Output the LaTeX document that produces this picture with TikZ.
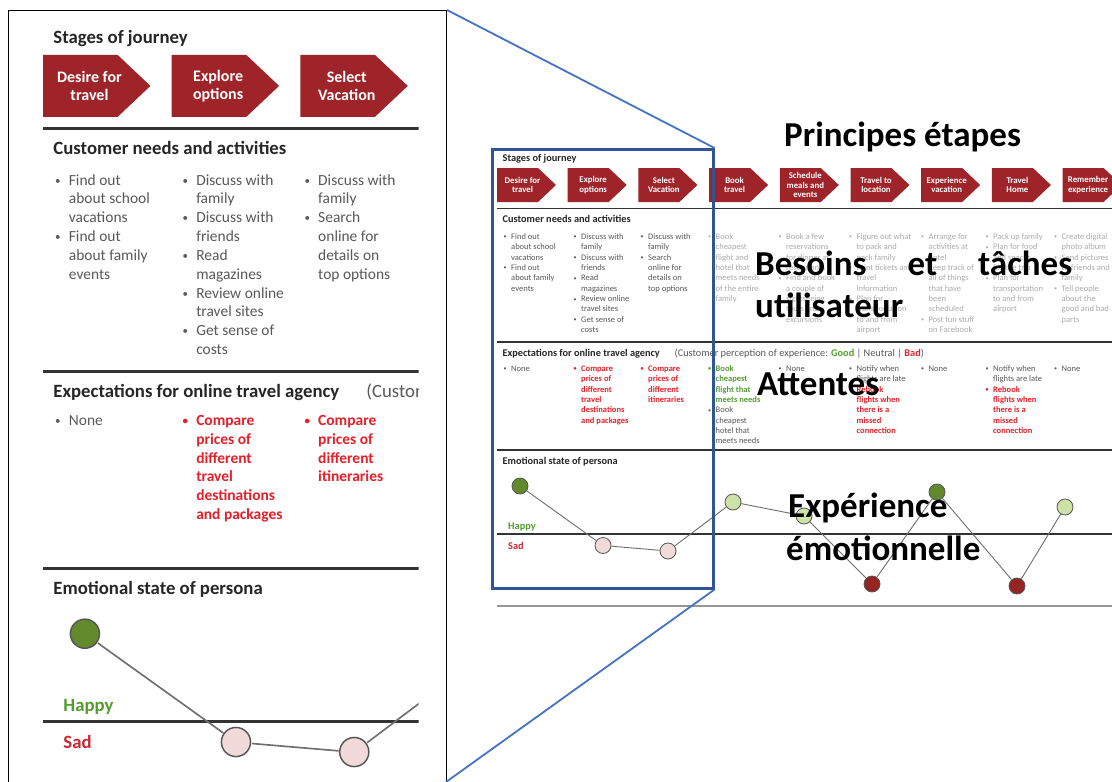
\documentclass[tikz,border=0pt]{standalone}
\usepackage{fontspec}
\setmainfont{Carlito}
\usepackage{xcolor}
\usepackage{tikz}
\usetikzlibrary{positioning}

\definecolor{stagered}{RGB}{158,36,42}
\definecolor{inkblack}{RGB}{38,38,38}
\definecolor{bodygray}{RGB}{89,89,89}
\definecolor{fadegray}{RGB}{172,172,172}
\definecolor{hotred}{RGB}{228,32,42}
\definecolor{goodgreen}{RGB}{84,156,48}
\definecolor{sadred}{RGB}{200,40,50}
\definecolor{rulegray}{RGB}{51,51,51}
\definecolor{softgray}{RGB}{150,150,150}
\definecolor{moodgray}{RGB}{110,110,110}
\definecolor{moodedge}{RGB}{85,85,85}
\definecolor{deepgreen}{RGB}{98,138,44}
\definecolor{palegreen}{RGB}{204,226,166}
\definecolor{palepink}{RGB}{242,218,218}
\definecolor{deepred}{RGB}{150,36,36}
\definecolor{lensblue}{RGB}{47,85,151}
\definecolor{linkblue}{RGB}{68,114,196}

\newcommand{\zf}{1}
\newcommand{\bitem}{\makebox[7.5pt][l]{\raisebox{0.6pt}{\fontsize{6}{6}\selectfont\textbullet}}}
\newcommand{\bcont}{\hspace*{7.5pt}}
\newcommand{\itemstack}[1]{\begin{tabular}[t]{@{}l@{}}#1\end{tabular}}
\newcommand{\keytext}{(Customer perception of experience: {\bfseries\color{goodgreen}Good} | Neutral | {\bfseries\color{hotred}Bad})}

% first three columns of the slide, rules and emotion curve (slide pixels)
\newcommand{\slidecore}{%
  % Stages
  \node[heading] (stagestitle) at (502.5,161.5) {Stages of journey};
  \foreach \lbl [count=\i] in {{Desire for\\travel},{Explore\\options},{Select\\Vacation}}{
    \pgfmathsetmacro\sx{497+70.7*(\i-1)}
    \fill[stagered] (\sx,168) -- ++(41,0) -- ++(18,17) -- ++(-18,17) -- ++(-41,0) -- cycle;
    \node[stagelabel] (stage\i) at (\sx+25.5,185) {\lbl};
  }
  \draw[sectionrule] (497,208.5) -- (1115,208.5);
  % Needs
  \node[heading] (needstitle) at (502.5,222.5) {Customer needs and activities};
  \node[cell] (need1) at (503.5,239.5) {\itemstack{\bitem Find out\\\bcont about school\\\bcont vacations\\\bitem Find out\\\bcont about family\\\bcont events}};
  \node[cell] (need2) at (573.5,239.5) {\itemstack{\bitem Discuss with\\\bcont family\\\bitem Discuss with\\\bcont friends\\\bitem Read\\\bcont magazines\\\bitem Review online\\\bcont travel sites\\\bitem Get sense of\\\bcont costs}};
  \node[cell] (need3) at (640.5,239.5) {\itemstack{\bitem Discuss with\\\bcont family\\\bitem Search\\\bcont online for\\\bcont details on\\\bcont top options}};
  \draw[sectionrule] (497,342) -- (1115,342);
  % Expectations
  \node[heading] (expecttitle) at (502.5,356) {Expectations for online travel agency};
  \node[heading, font=\fontsize{10.3}{12}\selectfont, text=bodygray] (expectkey) at (674.5,356) {\keytext};
  \node[cell] (expect1) at (503.5,371.5) {\itemstack{\bitem None}};
  \node[alert] (expect2) at (573.5,371.5) {\itemstack{\bitem Compare\\\bcont prices of\\\bcont different\\\bcont travel\\\bcont destinations\\\bcont and packages}};
  \node[alert] (expect3) at (640.5,371.5) {\itemstack{\bitem Compare\\\bcont prices of\\\bcont different\\\bcont itineraries}};
  \draw[sectionrule] (497,450) -- (1115,450);
  % Emotions
  \node[heading] (moodtitle) at (502.5,464.5) {Emotional state of persona};
  \node[moodlabel, text=goodgreen] (happy) at (508,529) {Happy};
  \node[moodlabel, text=sadred] (sad) at (508,549) {Sad};
  \draw[sectionrule] (497,534) -- (1115,534);
  \foreach \mx/\my/\tone [count=\i] in {520/486/deepgreen, 603/545.5/palepink, 668/551/palepink, 733/502/palegreen, 804/516/palegreen, 872/584/deepred, 937/492/deepgreen, 1017/586/deepred, 1065/507/palegreen}
    \node[mood, fill=\tone] (mood\i) at (\mx,\my) {};
  \draw[moodlink] (mood1) -- (mood2) -- (mood3) -- (mood4) -- (mood5) -- (mood6) -- (mood7) -- (mood8) -- (mood9);
  \draw[softrule] (497,606) -- (1115,606);
}

% columns four to nine
\newcommand{\slidetail}{%
  \foreach \lbl [count=\i from 4] in {{Book\\travel},{Schedule\\meals and\\events},{Travel to\\location},{Experience\\vacation},{Travel\\Home},{Remember\\experience}}{
    \pgfmathsetmacro\sx{497+70.7*(\i-1)}
    \fill[stagered] (\sx,168) -- ++(41,0) -- ++(18,17) -- ++(-18,17) -- ++(-41,0) -- cycle;
    \node[stagelabel] (stage\i) at (\sx+25.5,185) {\lbl};
  }
  \node[faded] (need4) at (708,239.5) {\itemstack{\bitem Book\\\bcont cheapest\\\bcont flight and\\\bcont hotel that\\\bcont meets needs\\\bcont of the entire\\\bcont family}};
  \node[faded] (need5) at (778.5,239.5) {\itemstack{\bitem Book a few\\\bcont reservations\\\bcont for dinner at\\\bcont restaurants\\\bitem Find and book\\\bcont a couple of\\\bcont sightseeing\\\bcont tours and\\\bcont excursions}};
  \node[faded] (need6) at (849,239.5) {\itemstack{\bitem Figure out what\\\bcont to pack and\\\bcont pack family\\\bitem Print tickets and\\\bcont travel\\\bcont information\\\bitem Plan for\\\bcont transportation\\\bcont to and from\\\bcont airport}};
  \node[faded] (need7) at (921,239.5) {\itemstack{\bitem Arrange for\\\bcont activities at\\\bcont hotel\\\bitem Keep track of\\\bcont all of things\\\bcont that have\\\bcont been\\\bcont scheduled\\\bitem Post fun stuff\\\bcont on Facebook}};
  \node[faded] (need8) at (985.5,239.5) {\itemstack{\bitem Pack up family\\\bitem Plan for food\\\bcont and snacks\\\bcont for the trip\\\bitem Plan for\\\bcont transportation\\\bcont to and from\\\bcont airport}};
  \node[faded] (need9) at (1054,239.5) {\itemstack{\bitem Create digital\\\bcont photo album\\\bitem Send pictures\\\bcont to friends and\\\bcont family\\\bitem Tell people\\\bcont about the\\\bcont good and bad\\\bcont parts}};
  \node[good] (expect4a) at (708,371.5) {\itemstack{\bitem Book\\\bcont cheapest\\\bcont flight that\\\bcont meets needs}};
  \node[cell] (expect4b) at (708,412.9) {\itemstack{\bitem Book\\\bcont cheapest\\\bcont hotel that\\\bcont meets needs}};
  \node[cell] (expect5) at (778.5,371.5) {\itemstack{\bitem None}};
  \node[cell] (expect6a) at (849,371.5) {\itemstack{\bitem Notify when\\\bcont flights are late}};
  \node[alert] (expect6b) at (849,392.2) {\itemstack{\bitem Rebook\\\bcont flights when\\\bcont there is a\\\bcont missed\\\bcont connection}};
  \node[cell] (expect7) at (921,371.5) {\itemstack{\bitem None}};
  \node[cell] (expect8a) at (985.5,371.5) {\itemstack{\bitem Notify when\\\bcont flights are late}};
  \node[alert] (expect8b) at (985.5,392.2) {\itemstack{\bitem Rebook\\\bcont flights when\\\bcont there is a\\\bcont missed\\\bcont connection}};
  \node[cell] (expect9) at (1054,371.5) {\itemstack{\bitem None}};
}

\begin{document}
\begin{tikzpicture}[
    x=1pt, y=-1pt,
    heading/.style={anchor=base west, inner sep=0pt, font=\fontsize{10.3}{12}\selectfont\bfseries, text=inkblack},
    stagelabel/.style={align=center, inner sep=0pt, text=white, font=\fontsize{8.8}{9.6}\selectfont\bfseries},
    cell/.style={anchor=base west, inner sep=0pt, font=\fontsize{8.5}{10.35}\selectfont, text=bodygray},
    faded/.style={cell, text=fadegray},
    alert/.style={cell, text=hotred, font=\fontsize{8.5}{10.35}\selectfont\bfseries},
    good/.style={cell, text=goodgreen, font=\fontsize{8.5}{10.35}\selectfont\bfseries},
    sectionrule/.style={draw=rulegray, line width=1.6pt*\zf},
    softrule/.style={draw=softgray, line width=1.3pt*\zf},
    mood/.style={circle, draw=moodedge, line width=0.8pt*\zf, minimum size=16pt, inner sep=0pt},
    moodlink/.style={draw=moodgray, line width=0.9pt*\zf},
    moodlabel/.style={anchor=base west, inner sep=0pt, font=\fontsize{10.3}{12}\selectfont\bfseries},
    bigtext/.style={anchor=base west, inner sep=0pt, font=\fontsize{35}{42}\selectfont\bfseries, text=black},
    panelframe/.style={draw=black, line width=1pt, anchor=north west, inner sep=0pt},
    lensbox/.style={draw=lensblue, line width=2.5pt, anchor=north west, inner sep=0pt},
    zoomlink/.style={draw=linkblue, line width=1.8pt}
  ]
  \useasboundingbox (0,0) rectangle (1112,782);
  \fill[white] (0,0) rectangle (1112,782);

  % Zoomed part of the slide
  \begin{scope}
    \clip (8,10) rectangle (418.5,782);
    \begin{scope}[shift={(-861.5,-250.8)}, scale=1.82, transform shape, name prefix=zoom-]
      \renewcommand{\zf}{1.82}
      \renewcommand{\keytext}{(Customer}
      \slidecore
    \end{scope}
  \end{scope}
  \node[panelframe, minimum width=438pt, minimum height=800pt] (zoomframe) at (8,10) {};

  % Whole slide
  \begin{scope}
    \clip (491,0) rectangle (1112,782);
    \slidecore
    \slidetail
  \end{scope}

  % Lens and links
  \node[lensbox, minimum width=221pt, minimum height=439pt] (lens) at (491,148) {};
  \coordinate (zoombase) at (446,782);
  \draw[zoomlink] (zoomframe.north east) -- (lens.north east);
  \draw[zoomlink] (lens.south east) -- (zoombase);

  % French labels
  \node[bigtext] (stagesnote) at (784,146) {Principes étapes};
  \node[bigtext, text width=317pt, align=left] (needsnote) at (755,275) {Besoins\hfill et\hfill tâches};
  \node[bigtext] (needsnote2) at (755,317) {utilisateur};
  \node[bigtext] (expectnote) at (757,395) {Attentes};
  \node[bigtext] (moodnote) at (788,517) {Expérience};
  \node[bigtext] (moodnote2) at (786,560) {émotionnelle};
\end{tikzpicture}
\end{document}
